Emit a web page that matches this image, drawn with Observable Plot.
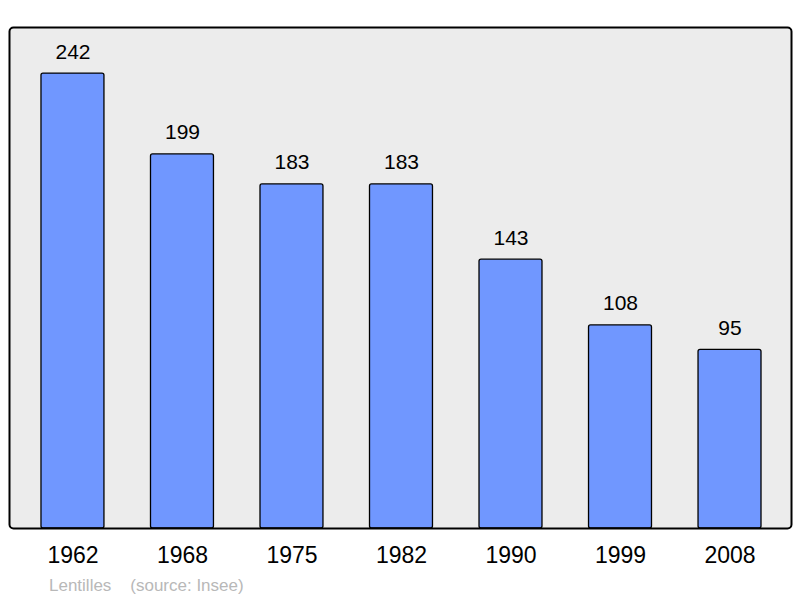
<!DOCTYPE html>
<html>
<head>
<meta charset="utf-8">
<script src="https://cdn.jsdelivr.net/npm/d3@7"></script>
<script src="https://cdn.jsdelivr.net/npm/@observablehq/plot@0.6"></script>
<style>
  body { margin: 0; background: #fff; font-family: "Liberation Sans", Arial, sans-serif; }
  #chart svg { display: block; }
  #caption { white-space: pre; color: #b8b8b8; font-size: 17px; padding-left: 49px; margin-top: 4px; font-family: "Liberation Sans", Arial, sans-serif; }
</style>
</head>
<body>
<div id="chart"></div>
<div id="caption"></div>
<script>
const years = ["1962", "1968", "1975", "1982", "1990", "1999", "2008"];
const population = [242, 199, 183, 183, 143, 108, 95];
const commune = "Lentilles";
const source = "(source: Insee)";

const data = years.map((y, i) => ({year: y, value: population[i]}));

const chart = Plot.plot({
  width: 800,
  height: 572,
  marginTop: 27,
  marginBottom: 44,
  marginLeft: 9,
  marginRight: 9,
  style: {fontFamily: "Liberation Sans, Arial, sans-serif", background: "#fff"},
  x: {domain: years, paddingInner: 0.425, paddingOuter: 0.283, align: 0.516, round: false, label: null},
  y: {domain: [0, 266.5], axis: null},
  marks: [
    Plot.frame({fill: "#ececec", stroke: "none", rx: 4}),
    Plot.barY(data, {x: "year", y: "value", fill: "#7097ff", stroke: "#000", strokeWidth: 1.3, rx: 2}),
    Plot.text(data, {x: "year", y: "value", text: d => String(d.value), dy: -15, lineAnchor: "bottom", fontSize: 21, fill: "#000"}),
    Plot.frame({fill: "none", stroke: "#000", strokeWidth: 2, rx: 4}),
    Plot.axisX({tickSize: 0, tickPadding: 18, fontSize: 23, label: null, lineAnchor: "top"})
  ]
});
document.getElementById("chart").appendChild(chart);
document.getElementById("caption").textContent = commune + "    " + source;
</script>
</body>
</html>
